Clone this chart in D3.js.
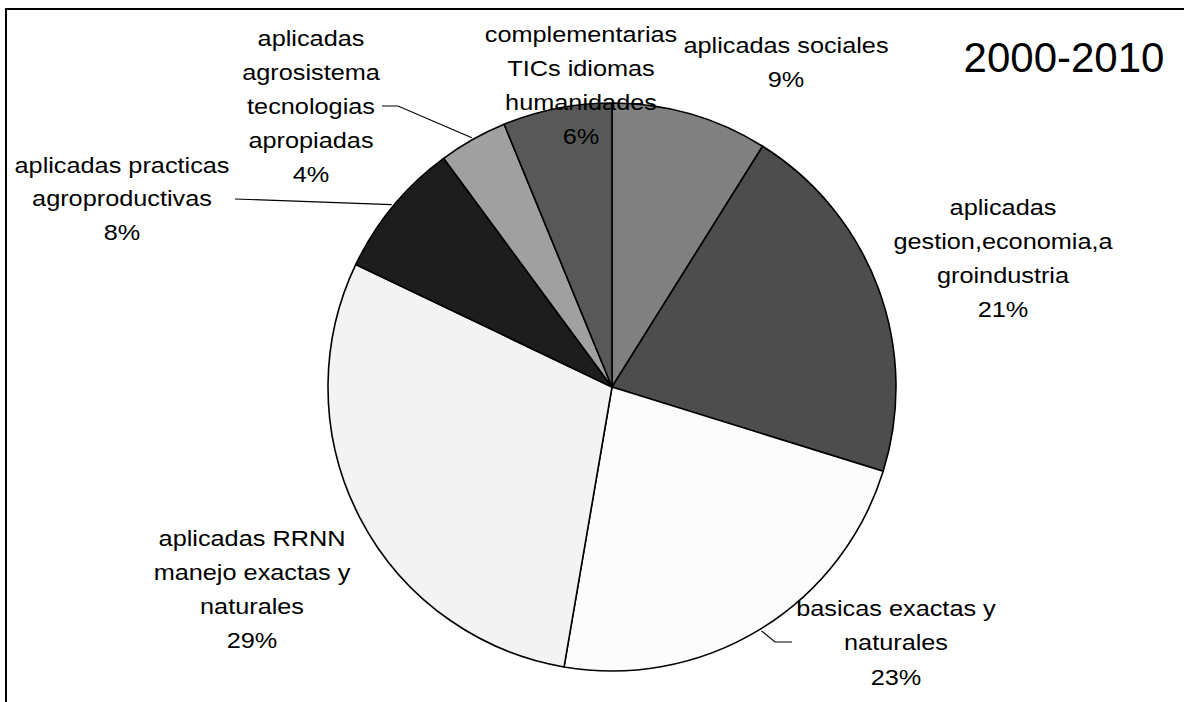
<!DOCTYPE html>
<html>
<head>
<meta charset="utf-8">
<script src="https://cdn.jsdelivr.net/npm/d3@7/dist/d3.min.js"></script>
<style>
  html, body { margin: 0; padding: 0; background: #fff; }
  svg { display: block; }
  text { font-family: "Liberation Sans", Arial, sans-serif; fill: #000; }
</style>
</head>
<body>
<svg id="chart" width="1184" height="702"></svg>
<script>
// ---- Data ----
const categories = [
  "aplicadas sociales",
  "aplicadas gestion,economia,agroindustria",
  "basicas exactas y naturales",
  "aplicadas RRNN manejo exactas y naturales",
  "aplicadas practicas agroproductivas",
  "aplicadas agrosistema tecnologias apropiadas",
  "complementarias TICs idiomas humanidades"
];
const values = [8.9, 20.9, 22.9, 29.4, 7.8, 3.9, 6.2];
const labelLines = [
  ["aplicadas sociales"],
  ["aplicadas", "gestion,economia,a", "groindustria"],
  ["basicas exactas y", "naturales"],
  ["aplicadas RRNN", "manejo exactas y", "naturales"],
  ["aplicadas practicas", "agroproductivas"],
  ["aplicadas", "agrosistema", "tecnologias", "apropiadas"],
  ["complementarias", "TICs idiomas", "humanidades"]
];
const title = "2000-2010";

// ---- Style / layout ----
const colors = ["#808080", "#4d4d4d", "#fcfcfc", "#f3f3f3", "#1d1d1d", "#a0a0a0", "#585858"];
const cx = 612, cy = 387, R = 284;
const labelPos = [
  {x: 786, y: 53, dy: 34.5},
  {x: 1003, y: 215, dy: 34},
  {x: 896, y: 616, dy: 34.5},
  {x: 252, y: 546, dy: 34},
  {x: 122, y: 173, dy: 33.5},
  {x: 311, y: 46, dy: 34},
  {x: 581, y: 42, dy: 34}
];
const leaders = {
  5: [[382, 106], [398, 106]],
  4: [[235, 199]],
  2: [[792, 642], [775, 642]]
};

const svg = d3.select("#chart");

svg.append("rect")
  .attr("x", 6).attr("y", 9)
  .attr("width", 1300).attr("height", 800)
  .attr("fill", "none").attr("stroke", "#000").attr("stroke-width", 2);

const total = d3.sum(values);
const pie = d3.pie().sort(null).value(d => d).startAngle(0).endAngle(2 * Math.PI);
const arcs = pie(values);
const arc = d3.arc().innerRadius(0).outerRadius(R);

const g = svg.append("g").attr("transform", `translate(${cx},${cy})`);
g.selectAll("path.slice")
  .data(arcs)
  .join("path")
  .attr("class", "slice")
  .attr("d", arc)
  .attr("fill", (d, i) => colors[i])
  .attr("stroke", "#000")
  .attr("stroke-width", 1.6)
  .attr("stroke-linejoin", "round");

Object.keys(leaders).forEach(k => {
  const i = +k;
  const a = (arcs[i].startAngle + arcs[i].endAngle) / 2;
  const pr = R + 2;
  const pt = [cx + pr * Math.sin(a), cy - pr * Math.cos(a)];
  const pts = leaders[i].concat([pt]);
  svg.append("path")
    .attr("d", d3.line()(pts))
    .attr("fill", "none")
    .attr("stroke", "#000")
    .attr("stroke-width", 1.2);
});

arcs.forEach((d, i) => {
  const lines = labelLines[i].concat([Math.round(values[i] / total * 100) + "%"]);
  const p = labelPos[i];
  const t = svg.append("text")
    .attr("text-anchor", "middle")
    .attr("font-size", 22)
    .attr("transform", `translate(${p.x},0) scale(1.15,1)`);
  lines.forEach((ln, j) => {
    t.append("tspan")
      .attr("x", 0)
      .attr("y", p.y + j * p.dy)
      .text(ln);
  });
});

svg.append("text")
  .attr("x", 1064).attr("y", 72)
  .attr("text-anchor", "middle")
  .attr("font-size", 42)
  .text(title);
</script>
</body>
</html>
